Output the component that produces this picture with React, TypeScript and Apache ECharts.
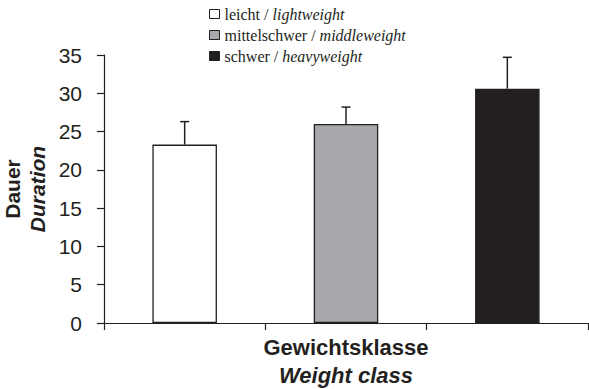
import React, { useEffect, useRef } from "react";
import * as echarts from "echarts";

// Weight classes (German names on the axis categories / legend, English glosses in italics)
const categories = ["leicht", "mittelschwer", "schwer"];
const englishNames = ["lightweight", "middleweight", "heavyweight"];

// Mean duration per class and the upper error (SD) drawn above each bar
const means = [23.3, 26.0, 30.6];
const errors = [3.0, 2.2, 4.1];

// Bar fills
const fills = ["#ffffff", "#a7a9ac", "#231f20"];

// Y axis range and step
const yMin = 0;
const yMax = 35;
const yStep = 5;

const ink = "#231f20";
const sans = "'Liberation Sans', Arial, sans-serif";
const serif = "'Liberation Serif', 'Times New Roman', serif";

export default function App() {
  const ref = useRef<HTMLDivElement | null>(null);

  useEffect(() => {
    if (!ref.current) return;
    const chart = echarts.init(ref.current, undefined, { renderer: "svg" });

    const barSeries = categories.map((name, i) => ({
      type: "bar",
      name,
      stack: "classes",
      barWidth: "40%",
      data: categories.map((_, j) => (j === i ? means[i] : "-")),
      itemStyle: { color: fills[i], borderColor: ink, borderWidth: 1.3 },
      emphasis: { disabled: true },
      z: 2,
    }));

    const errorSeries = {
      type: "custom",
      name: "error",
      data: means.map((m, i) => [i, m, m + errors[i]]),
      encode: { x: 0, y: [1, 2] },
      z: 3,
      renderItem: (_params: any, api: any) => {
        const base = api.coord([api.value(0), api.value(1)]);
        const top = api.coord([api.value(0), api.value(2)]);
        const style = { stroke: ink, lineWidth: 1.5 };
        return {
          type: "group",
          children: [
            { type: "line", shape: { x1: base[0], y1: base[1], x2: top[0], y2: top[1] }, style },
            { type: "line", shape: { x1: top[0] - 4.5, y1: top[1], x2: top[0] + 4.5, y2: top[1] }, style },
          ],
        };
      },
    };

    chart.setOption({
      animation: false,
      backgroundColor: "#ffffff",
      grid: { left: 104, right: 1, top: 55, bottom: 66, containLabel: false, outerBoundsMode: "none" },
      legend: {
        orient: "vertical",
        left: 209,
        top: 6,
        padding: 0,
        itemWidth: 10,
        itemHeight: 9,
        itemGap: 5,
        icon: "rect",
        selectedMode: false,
        data: categories,
        formatter: (name: string) => {
          const i = categories.indexOf(name);
          return `{a|${name} / }{b|${englishNames[i]}}`;
        },
        itemStyle: { borderColor: ink, borderWidth: 1 },
        textStyle: {
          fontFamily: serif,
          fontSize: 16,
          color: ink,
          lineHeight: 16,
          rich: {
            a: { fontFamily: serif, fontSize: 16, color: ink, lineHeight: 16 },
            b: { fontFamily: serif, fontSize: 16, color: ink, fontStyle: "italic", lineHeight: 16 },
          },
        },
      },
      xAxis: {
        type: "category",
        data: categories,
        boundaryGap: true,
        axisLine: { lineStyle: { color: ink, width: 1.2 } },
        axisTick: { show: true, length: 7, alignWithLabel: false, lineStyle: { color: ink, width: 1.2 } },
        axisLabel: { show: false },
        splitLine: { show: false },
      },
      yAxis: {
        type: "value",
        min: yMin,
        max: yMax,
        interval: yStep,
        name: "{a|Dauer}\n{b|Duration}",
        nameLocation: "middle",
        nameRotate: 90,
        nameGap: 46,
        nameTextStyle: {
          rich: {
            a: { fontFamily: sans, fontSize: 21, fontWeight: "bold", color: ink, lineHeight: 25 },
            b: { fontFamily: sans, fontSize: 21, fontWeight: "bold", fontStyle: "italic", color: ink, lineHeight: 25 },
          },
        },
        axisLine: { show: true, lineStyle: { color: ink, width: 1.2 } },
        axisTick: { show: true, length: 7, lineStyle: { color: ink, width: 1.2 } },
        axisLabel: { fontFamily: sans, fontSize: 21, color: ink, margin: 22 },
        splitLine: { show: false },
      },
      graphic: [
        {
          type: "text",
          x: 346,
          y: 347,
          style: {
            text: "Gewichtsklasse",
            font: `bold 22px ${sans}`,
            fill: ink,
            textAlign: "center",
            textVerticalAlign: "middle",
          },
        },
        {
          type: "text",
          x: 346,
          y: 375,
          style: {
            text: "Weight class",
            font: `italic bold 22px ${sans}`,
            fill: ink,
            textAlign: "center",
            textVerticalAlign: "middle",
          },
        },
      ],
      series: [...barSeries, errorSeries],
    });

    return () => chart.dispose();
  }, []);

  return (
    <div
      ref={ref}
      style={{ position: "fixed", left: 0, top: 0, width: 589, height: 389, background: "#fff" }}
    />
  );
}
